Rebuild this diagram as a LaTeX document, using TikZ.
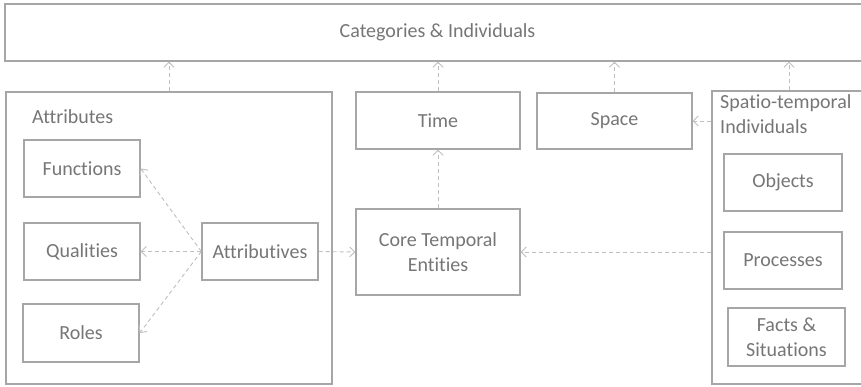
\documentclass[tikz,border=0pt]{standalone}
\usepackage{fontspec}
\setmainfont[Ligatures=NoCommon]{Carlito}
\usetikzlibrary{arrows.meta}
\definecolor{boxline}{HTML}{A6A6A6}
\definecolor{boxtext}{HTML}{767676}
\definecolor{linkline}{HTML}{BFBFBF}
\begin{document}
\begin{tikzpicture}[x=1pt,y=-1pt,
  box/.style={draw=boxline, line width=1.4pt, fill=white, rectangle, inner sep=0pt,
    text=boxtext, align=center, font=\fontsize{20}{25}\selectfont},
  lbl/.style={inner sep=0pt, text=boxtext, align=left, font=\fontsize{20}{25}\selectfont},
  link/.style={draw=linkline, line width=0.9pt, dash pattern=on 4pt off 3pt,
    -{Straight Barb[length=5pt,width=10pt,line width=0.9pt]}}]
\useasboundingbox (0,0) rectangle (861,386);
\clip (0,0) rectangle (861,386);
\fill[white] (0,0) rectangle (861,386);

% top level
\node[box, minimum width=865pt, minimum height=57pt] (cat) at (437.5,32.5) {Categories \& Individuals};

% attributes group
\node[box, minimum width=326pt, minimum height=292pt] (attrs) at (169,238) {};
\node[lbl, anchor=west] (attrslbl) at (32,117) {Attributes};
\node[box, minimum width=116pt, minimum height=57pt] (func) at (82,168.5) {Functions};
\node[box, minimum width=116pt, minimum height=57pt] (qual) at (82,251.5) {Qualities};
\node[box, minimum width=116pt, minimum height=58pt] (roles) at (81,333) {Roles};
\node[box, minimum width=116pt, minimum height=57pt] (attrv) at (260,251.5) {Attributives};

% time and core
\node[box, minimum width=164pt, minimum height=57pt] (time) at (438,120.5) {Time};
\node[box, minimum width=164pt, minimum height=86pt] (core) at (438,252) {Core Temporal\\Entities};

% space
\node[box, minimum width=155pt, minimum height=56pt] (space) at (614.5,121) {Space};

% spatio-temporal individuals group
\node[box, minimum width=154pt, minimum height=293pt] (spt) at (789,237.5) {};
\node[lbl, anchor=north west] (sptlbl) at (720,94) {Spatio-temporal\\Individuals};
\node[box, minimum width=118pt, minimum height=57pt] (obj) at (783,182.5) {Objects};
\node[box, minimum width=118pt, minimum height=57pt] (proc) at (783,260.5) {Processes};
\node[box, minimum width=117pt, minimum height=58pt] (facts) at (786.5,337) {Facts \&\\Situations};

% connectors
\draw[link] (attrs.north) -- (attrs.north |- cat.south);
\draw[link] (time.north) -- (time.north |- cat.south);
\draw[link] (space.north) -- (space.north |- cat.south);
\draw[link] (spt.north) -- (spt.north |- cat.south);

\draw[link] (attrv.west) -- (func.east);
\draw[link] (attrv.west) -- (qual.east);
\draw[link] (attrv.west) -- (roles.east);
\draw[link] (attrv.east) -- (core.west);
\draw[link] (core.north) -- (time.south);
\draw[link] (spt.west |- space.east) -- (space.east);
\draw[link] (spt.west |- core.east) -- (core.east);
\end{tikzpicture}
\end{document}
